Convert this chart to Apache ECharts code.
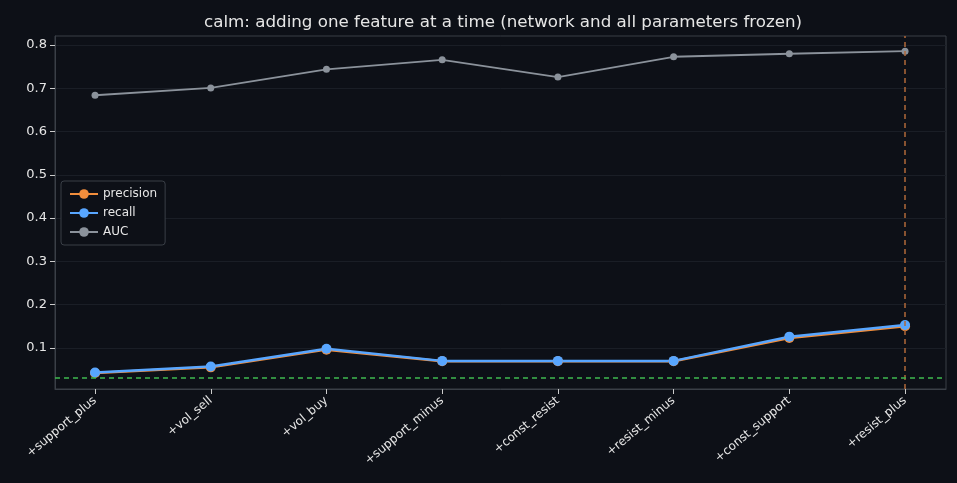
<!DOCTYPE html><html><head><meta charset="utf-8">
<script src="https://cdn.jsdelivr.net/npm/echarts@6/dist/echarts.min.js"></script>
<style>html,body{margin:0;background:#0d1017}#c{width:957px;height:483px}</style></head><body><div id="c"></div>
<script>
const categories=['+support_plus','+vol_sell','+vol_buy','+support_minus','+const_resist','+resist_minus','+const_support','+resist_plus'];
const precision=[0.042,0.055,0.096,0.069,0.069,0.069,0.123,0.150];
const recall=[0.043,0.057,0.098,0.070,0.070,0.070,0.126,0.153];
const auc=[0.684,0.701,0.744,0.766,0.726,0.773,0.780,0.786];
const yTicks=[0.1,0.2,0.3,0.4,0.5,0.6,0.7,0.8];
const baseline=0.025;
const bestIndex=7;
const pts=a=>a.map((v,i)=>[i,v]);
const idx=categories.map((c,i)=>i);
const chart=echarts.init(document.getElementById('c'));
const txt='#e6e6e6';
chart.setOption({
 backgroundColor:'#0d1017',animation:false,
 title:{text:'calm: adding one feature at a time (network and all parameters frozen)',left:199,top:9,textStyle:{color:txt,fontSize:16.7,fontWeight:'normal',fontFamily:'DejaVu Sans'}},
 grid:{left:55,right:11,top:36,bottom:94,show:true,borderColor:'#3a3f47',borderWidth:1,backgroundColor:'transparent'},
 legend:{orient:'vertical',left:61,top:181,padding:[7,8],itemGap:7,backgroundColor:'#0d1017',borderColor:'#3a3f47',borderWidth:1,borderRadius:3,
  textStyle:{color:txt,fontSize:12,fontFamily:'DejaVu Sans'},itemWidth:28,itemHeight:12,
  data:['precision','recall','AUC']},
 xAxis:{type:'value',min:-0.346,max:7.354,
  axisLine:{show:true,onZero:false,lineStyle:{color:'#3a3f47'}},axisTick:{show:true,length:5,customValues:idx,lineStyle:{color:'#cccccc'}},splitLine:{show:false},
  axisLabel:{color:txt,fontSize:12,rotate:40,margin:10,fontFamily:'DejaVu Sans',customValues:idx,
   formatter:v=>categories[Math.round(v)]}},
 yAxis:{type:'value',min:0.005,max:0.821,
  axisLine:{show:true,onZero:false,lineStyle:{color:'#3a3f47'}},axisTick:{show:true,length:5,customValues:yTicks,lineStyle:{color:'#cccccc'}},
  splitLine:{lineStyle:{color:'#1a1e26'}},
  axisLabel:{color:txt,fontSize:13,fontFamily:'DejaVu Sans',customValues:yTicks,formatter:v=>v.toFixed(1)}},
 series:[
  {name:'precision',type:'line',data:pts(precision),symbol:'circle',symbolSize:10,itemStyle:{color:'#f28e3c'},lineStyle:{width:2.5,color:'#f28e3c'},
   markLine:{silent:true,symbol:'none',label:{show:false},data:[{xAxis:bestIndex,lineStyle:{color:'#b0683a',type:[5,4],width:1.5}},{yAxis:baseline,lineStyle:{color:'#3fb950',type:[5,4],width:1.6}}]}},
  {name:'recall',type:'line',data:pts(recall),symbol:'circle',symbolSize:10,itemStyle:{color:'#58a6ff'},lineStyle:{width:2.5,color:'#58a6ff'}},
  {name:'AUC',type:'line',data:pts(auc),symbol:'circle',symbolSize:7,itemStyle:{color:'#8b929b'},lineStyle:{width:1.8,color:'#8b929b'}}
 ]});
</script></body></html>
